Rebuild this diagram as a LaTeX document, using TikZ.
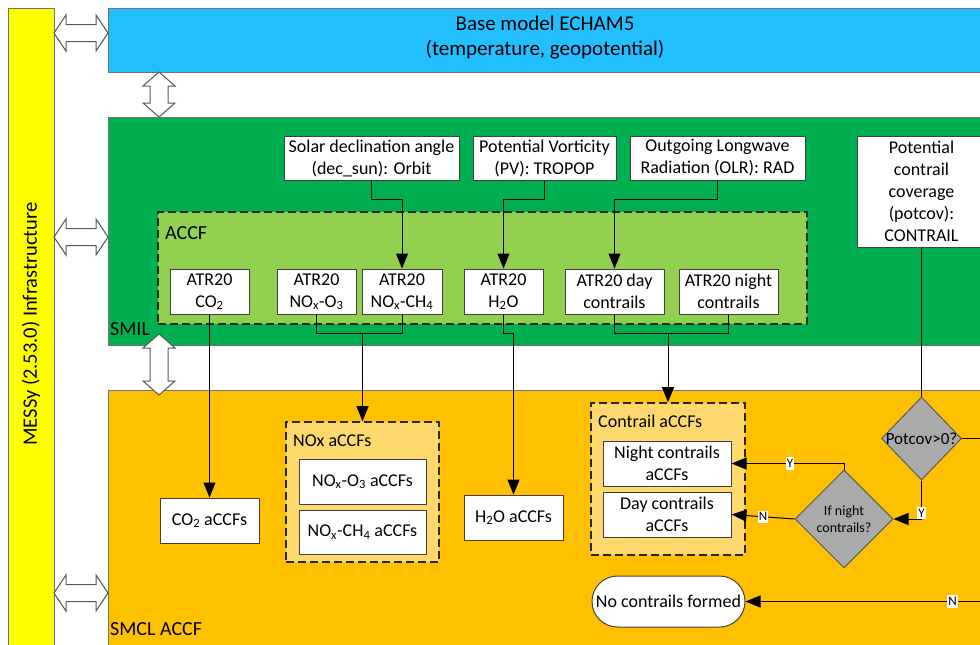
\documentclass[tikz,border=0pt]{standalone}
\usepackage{fontspec}
\setmainfont{Carlito}
\usetikzlibrary{shapes.geometric,shapes.misc,arrows.meta,calc}
\definecolor{cyanbg}{RGB}{33,191,255}
\definecolor{greenbg}{RGB}{0,176,80}
\definecolor{lgreen}{RGB}{146,208,80}
\definecolor{orangebg}{RGB}{255,192,0}
\definecolor{lorange}{RGB}{255,217,110}
\definecolor{yellowbg}{RGB}{255,255,0}
\definecolor{diagray}{RGB}{170,170,170}
\begin{document}
\begin{tikzpicture}[x=1pt,y=-1pt,
  region/.style={draw=black!55, line width=0.8pt, inner sep=0},
  wbox/.style={draw=black!75, line width=1pt, fill=white, inner sep=0, align=center, font=\fontsize{18}{22}\selectfont},
  dbox/.style={draw=black!85, dash pattern=on 8pt off 4pt, line width=1.6pt, inner sep=0},
  conn/.style={line width=1pt, draw=black},
  arr/.style={conn, -{Triangle[length=15pt,width=12pt]}},
  dia/.style={diamond, draw=black!65, fill=diagray, line width=1pt, inner sep=0, aspect=1},
  yn/.style={fill=white, inner xsep=1pt, inner ysep=2pt, font=\fontsize{13}{13}\selectfont},
  dblarrow/.style={draw=black!65, fill=white, line width=1pt},
  lbl/.style={anchor=west, inner sep=0, font=\fontsize{20}{24}\selectfont},
]
\clip (0,0) rectangle (980,645);
% regions
\node[region, fill=yellowbg, minimum width=46pt, minimum height=650pt] (messy) at (31,333) {};
\node[rotate=90, font=\fontsize{20.5}{24}\selectfont] (messyt) at (31,324) {MESSy (2.53.0) Infrastructure};
\node[region, fill=cyanbg, minimum width=882pt, minimum height=64pt] (echam) at (549,40) {};
\node[align=center, font=\fontsize{21}{25}\selectfont] (echamt) at (545,38) {Base model ECHAM5\\(temperature, geopotential)};
\node[region, fill=greenbg, minimum width=882pt, minimum height=228pt] (smil) at (549,231) {};
\node[lbl] (smilt) at (110,329) {SMIL};
\node[region, fill=orangebg, minimum width=882pt, minimum height=265pt] (smcl) at (549,522.5) {};
\node[lbl] (smclt) at (110,629) {SMCL ACCF};

% double arrows
\foreach \yy in {33,237,593}
  \draw[dblarrow] (54,\yy) -- ++(12,-18) -- ++(0,9.5) -- ++(30,0) -- ++(0,-9.5) -- ++(12,18)
     -- ++(-12,18) -- ++(0,-9.5) -- ++(-30,0) -- ++(0,9.5) -- cycle;
\draw[dblarrow] (159,72) -- ++(-16,14) -- ++(7,0) -- ++(0,17) -- ++(-7,0) -- ++(16,14)
     -- ++(16,-14) -- ++(-7,0) -- ++(0,-17) -- ++(7,0) -- cycle;
\draw[dblarrow] (159,334) -- ++(-16,14) -- ++(7,0) -- ++(0,33) -- ++(-7,0) -- ++(16,14)
     -- ++(16,-14) -- ++(-7,0) -- ++(0,-33) -- ++(7,0) -- cycle;

% ACCF group
\node[dbox, fill=lgreen, minimum width=649pt, minimum height=112pt] (accf) at (482.5,268) {};
\node[lbl] (accft) at (165,233) {ACCF};

% inputs
\node[wbox, minimum width=175pt, minimum height=44pt] (solar) at (371.5,158) {Solar declination angle\\(dec\_sun): Orbit};
\node[wbox, minimum width=143pt, minimum height=44pt] (pv) at (544.5,158) {Potential Vorticity\\(PV): TROPOP};
\node[wbox, minimum width=175pt, minimum height=44pt] (olr) at (717.5,158) {Outgoing Longwave\\Radiation (OLR): RAD};
\node[wbox, minimum width=128pt, minimum height=111pt] (potcov) at (921.5,191.5) {Potential\\contrail\\coverage\\(potcov):\\CONTRAIL};

% ATR20 boxes
\node[wbox, minimum width=79pt, minimum height=45pt] (atrco2) at (209.5,291.5) {ATR20\\CO\textsubscript{2}};
\node[wbox, minimum width=79pt, minimum height=45pt] (atrno3) at (316.5,291.5) {ATR20\\NO\textsubscript{x}-O\textsubscript{3}};
\node[wbox, minimum width=80pt, minimum height=45pt] (atrnch4) at (402,291.5) {ATR20\\NO\textsubscript{x}-CH\textsubscript{4}};
\node[wbox, minimum width=79pt, minimum height=45pt] (atrh2o) at (503.5,291.5) {ATR20\\H\textsubscript{2}O};
\node[wbox, minimum width=99pt, minimum height=45pt] (atrday) at (614.5,291.5) {ATR20 day\\contrails};
\node[wbox, minimum width=99pt, minimum height=45pt] (atrnight) at (728.5,291.5) {ATR20 night\\contrails};

% SMCL content
\node[wbox, minimum width=99pt, minimum height=45pt] (co2acc) at (209.5,520.5) {CO\textsubscript{2} aCCFs};
\node[dbox, fill=lorange, minimum width=153pt, minimum height=140pt] (noxbox) at (362.5,492) {};
\node[lbl, font=\fontsize{18}{22}\selectfont] (noxt) at (293,441) {NOx aCCFs};
\node[wbox, minimum width=127pt, minimum height=45pt] (no3acc) at (362.5,481.5) {NO\textsubscript{x}-O\textsubscript{3} aCCFs};
\node[wbox, minimum width=127pt, minimum height=44pt] (nch4acc) at (362.5,532) {NO\textsubscript{x}-CH\textsubscript{4} aCCFs};
\node[wbox, minimum width=99pt, minimum height=45pt] (h2oacc) at (513.5,517.5) {H\textsubscript{2}O aCCFs};

\node[dbox, fill=lorange, minimum width=154pt, minimum height=152pt] (contbox) at (668,479) {};
\node[lbl, font=\fontsize{18}{22}\selectfont] (contt) at (598,421) {Contrail aCCFs};
\node[wbox, minimum width=128pt, minimum height=45pt] (nightacc) at (667,463.5) {Night contrails\\aCCFs};
\node[wbox, minimum width=128pt, minimum height=45pt] (dayacc) at (667,514.5) {Day contrails\\aCCFs};

\node[dia, minimum width=98pt, minimum height=98pt] (ifn) at (844,519) {};
\node[align=center, font=\fontsize{14}{17}\selectfont] (ifnt) at (844,519) {If night\\contrails?};
\node[dia, minimum width=80pt, minimum height=83pt] (pcd) at (921.5,438.5) {};
\node[font=\fontsize{17}{20}\selectfont] (pcdt) at (921.5,438.5) {Potcov>0?};

\node[wbox, rounded rectangle, minimum width=153pt, minimum height=51pt] (nocont) at (668.5,601.5) {No contrails formed};

\coordinate (pcR) at (995,438.5);
\coordinate (ncR) at (995,601.5);

% connectors (inputs)
\draw[arr] (solar.south) -- ++(0,19) -| (atrnch4.north);
\draw[arr] (pv.south) -- ++(0,19) -| (atrh2o.north);
\draw[arr] (olr.south) -- ++(0,19) -| (atrday.north);
\draw[conn] (potcov.south) -- (pcd.north);

% ATR to aCCFs
\draw[arr] (atrco2.south) -- (co2acc.north);
\path (atrno3.south) ++(0,19) coordinate (nj0);
\coordinate (nj) at (nj0 -| noxbox.north);
\draw[conn] (atrno3.south) |- (nj) -| (atrnch4.south);
\draw[arr] (nj) -- (noxbox.north);
\draw[arr] (atrh2o.south) -- ++(0,19) -| (h2oacc.north);
\path (atrday.south) ++(0,19) coordinate (cj0);
\coordinate (cj) at (cj0 -| contbox.north);
\draw[conn] (atrday.south) |- (cj) -| (atrnight.south);
\draw[arr] (cj) -- (contbox.north);

% decisions
\draw[arr] (pcd.south) |- node[yn, pos=0.42] {Y} (ifn.east);
\draw[arr] (ifn.north) |- node[yn, pos=0.74] {Y} (nightacc.east);
\draw[arr] (ifn.west) -- node[yn, pos=0.5] {N} (dayacc.east);
\draw[conn] (pcd.east) -- (pcR);
\draw[arr] (ncR) -- node[yn, pos=0.17] {N} (nocont.east);
\end{tikzpicture}
\end{document}
